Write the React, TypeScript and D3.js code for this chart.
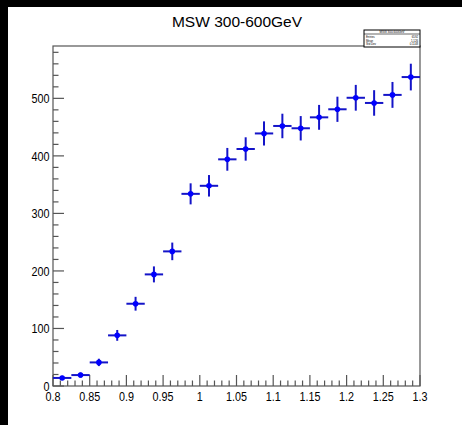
import React, { useEffect } from "react";
import * as d3 from "d3";

const binCenters = [0.8125, 0.8375, 0.8625, 0.8875, 0.9125, 0.9375, 0.9625, 0.9875, 1.0125, 1.0375, 1.0625, 1.0875, 1.1125, 1.1375, 1.1625, 1.1875, 1.2125, 1.2375, 1.2625, 1.2875];
const binHalfWidth = 0.0125;
const counts = [14, 19, 41, 88, 143, 194, 234, 334, 348, 394, 412, 439, 452, 448, 467, 481, 501, 492, 506, 537];
const errors = [3.7, 4.4, 6.4, 9.4, 12.0, 13.9, 15.3, 18.3, 18.7, 19.8, 20.3, 21.0, 21.3, 21.2, 21.6, 21.9, 22.4, 22.2, 22.5, 23.2];
const xTickLabels = ["0.8", "0.85", "0.9", "0.95", "1", "1.05", "1.1", "1.15", "1.2", "1.25", "1.3"];
const yTickLabels = ["0", "100", "200", "300", "400", "500"];
const title = "MSW 300-600GeV";
const statsTitle = "MSW 300-600GeV";
const statsRows = [["Entries", "6592"], ["Mean", "1.126"], ["Std Dev", "0.1148"]];

const W = 462, H = 425;
const FL = 53, FR = 420, FT = 46, FB = 386;
const FONT = "'Liberation Sans', Arial, Helvetica, sans-serif";

export default function App() {
  useEffect(() => {
    document.body.style.margin = "0";
    document.body.style.background = "#000";
    document.documentElement.style.overflow = "hidden";
  }, []);

  const x = d3.scaleLinear().domain([0.8, 1.3]).range([FL, FR]);
  const y = d3.scaleLinear().domain([0, 591]).range([FB, FT]);

  const xMinor = d3.range(0, 51).map((i) => 0.8 + i * 0.01);
  const yMinor = d3.range(0, 30).map((i) => i * 20);
  const axisColor = "#555";

  return (
    <svg width={W} height={H} style={{ display: "block" }} fontFamily={FONT}>
      <rect x={0} y={0} width={W} height={H} fill="#000" />
      <rect x={8} y={7} width={W - 8} height={H - 7} fill="#fff" />

      <text x={237} y={27} textAnchor="middle" fontSize={15.5} fill="#000">{title}</text>

      {/* frame */}
      <rect x={FL} y={FT} width={FR - FL} height={FB - FT} fill="none" stroke={axisColor} strokeWidth={1.2} />

      {/* x ticks */}
      {xMinor.map((v, i) => {
        const major = i % 5 === 0;
        const px = x(v);
        return <line key={"xt" + i} x1={px} x2={px} y1={FB} y2={FB - (major ? 11 : 5.5)} stroke={axisColor} strokeWidth={1.2} />;
      })}
      {xTickLabels.map((t, i) => (
        <text key={"xl" + i} transform={`translate(${x(0.8 + i * 0.05)},${400.5}) scale(0.8,1)`} textAnchor="middle" fontSize={13.5} fill="#000">{t}</text>
      ))}

      {/* y ticks */}
      {yMinor.map((v, i) => {
        const major = i % 5 === 0;
        const py = y(v);
        return <line key={"yt" + i} x1={FL} x2={FL + (major ? 11 : 5.5)} y1={py} y2={py} stroke={axisColor} strokeWidth={1.2} />;
      })}
      {yTickLabels.map((t, i) => (
        <text key={"yl" + i} transform={`translate(${49.5},${y(+t) + 4.8}) scale(0.8,1)`} textAnchor="end" fontSize={13.5} fill="#000">{t}</text>
      ))}

      {/* data */}
      {binCenters.map((c, i) => (
        <g key={"p" + i}>
          <line x1={x(c - binHalfWidth)} x2={x(c + binHalfWidth)} y1={y(counts[i])} y2={y(counts[i])} stroke="#1414c8" strokeWidth={2} />
          <line x1={x(c)} x2={x(c)} y1={y(counts[i] - errors[i])} y2={y(counts[i] + errors[i])} stroke="#1414c8" strokeWidth={2} />
          <circle cx={x(c)} cy={y(counts[i])} r={2.8} fill="#0000ff" />
        </g>
      ))}

      {/* stats box */}
      <rect x={364} y={30} width={56} height={17} fill="#fff" stroke="#000" strokeWidth={1} />
      <line x1={364} x2={420} y1={34} y2={34} stroke="#000" strokeWidth={0.6} />
      <text x={392} y={33} textAnchor="middle" fontSize={3} fill="#000">{statsTitle}</text>
      {statsRows.map((r, i) => (
        <g key={"s" + i}>
          <text x={366} y={38 + i * 3.6} fontSize={2.8} fill="#000">{r[0]}</text>
          <text x={418} y={38 + i * 3.6} textAnchor="end" fontSize={2.8} fill="#000">{r[1]}</text>
        </g>
      ))}
    </svg>
  );
}
